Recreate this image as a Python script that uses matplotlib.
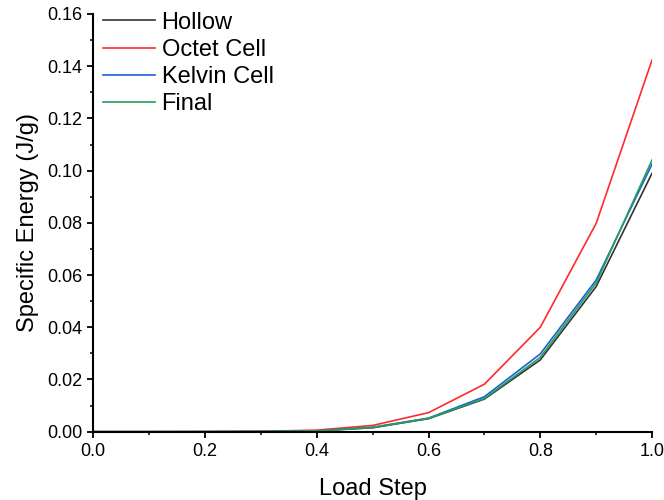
import matplotlib
matplotlib.use("Agg")
import matplotlib.pyplot as plt
from matplotlib.ticker import MultipleLocator, FormatStrFormatter

plt.rcParams['font.family'] = ['Liberation Sans', 'DejaVu Sans']

load_step = [0.0, 0.1, 0.2, 0.3, 0.4, 0.5, 0.6, 0.7, 0.8, 0.9, 1.0]
hollow = [0.0, 0.000001, 0.000015, 0.00007, 0.0003, 0.0015, 0.0050, 0.0125, 0.0275, 0.0556, 0.0990]
octet = [0.0, 0.000002, 0.00003, 0.00015, 0.0006, 0.0024, 0.0073, 0.0182, 0.0400, 0.0798, 0.1424]
kelvin = [0.0, 0.000001, 0.000015, 0.00008, 0.0003, 0.0017, 0.0052, 0.0134, 0.0298, 0.0581, 0.1025]
final = [0.0, 0.000001, 0.000015, 0.00007, 0.0003, 0.0016, 0.0051, 0.0127, 0.0285, 0.0570, 0.1041]

series = [("Hollow", hollow, "#333333"),
          ("Octet Cell", octet, "#FF2A2A"),
          ("Kelvin Cell", kelvin, "#1F5FDC"),
          ("Final", final, "#22A05A")]

fig = plt.figure(figsize=(6.64, 5.0), dpi=100)
ax = fig.add_axes([0.1405, 0.1366, 0.8415, 0.8354])
for name, vals, col in series:
    ax.plot(load_step, vals, color=col, lw=1.2, label=name)

ax.set_xlim(0, 1.0)
ax.set_ylim(0, 0.16)
ax.xaxis.set_major_locator(MultipleLocator(0.2))
ax.xaxis.set_minor_locator(MultipleLocator(0.1))
ax.yaxis.set_major_locator(MultipleLocator(0.02))
ax.yaxis.set_minor_locator(MultipleLocator(0.01))
ax.xaxis.set_major_formatter(FormatStrFormatter('%.1f'))
ax.yaxis.set_major_formatter(FormatStrFormatter('%.2f'))
for s in ['top', 'right']:
    ax.spines[s].set_visible(False)
for s in ['left', 'bottom']:
    ax.spines[s].set_linewidth(1.5)
ax.tick_params(which='major', direction='out', length=4, width=1.3, labelsize=13, pad=4)
ax.tick_params(which='minor', direction='out', length=2.5, width=1.1)
ax.set_xlabel("Load Step", fontsize=17, labelpad=13)
ax.set_ylabel("Specific Energy (J/g)", fontsize=17, labelpad=6)
leg = ax.legend(loc='upper left', bbox_to_anchor=(-0.013, 1.045), frameon=False, fontsize=17,
                handlelength=2.2, handletextpad=0.3, labelspacing=0.22, borderaxespad=0.3)
fig.savefig("out.png", dpi=100)
